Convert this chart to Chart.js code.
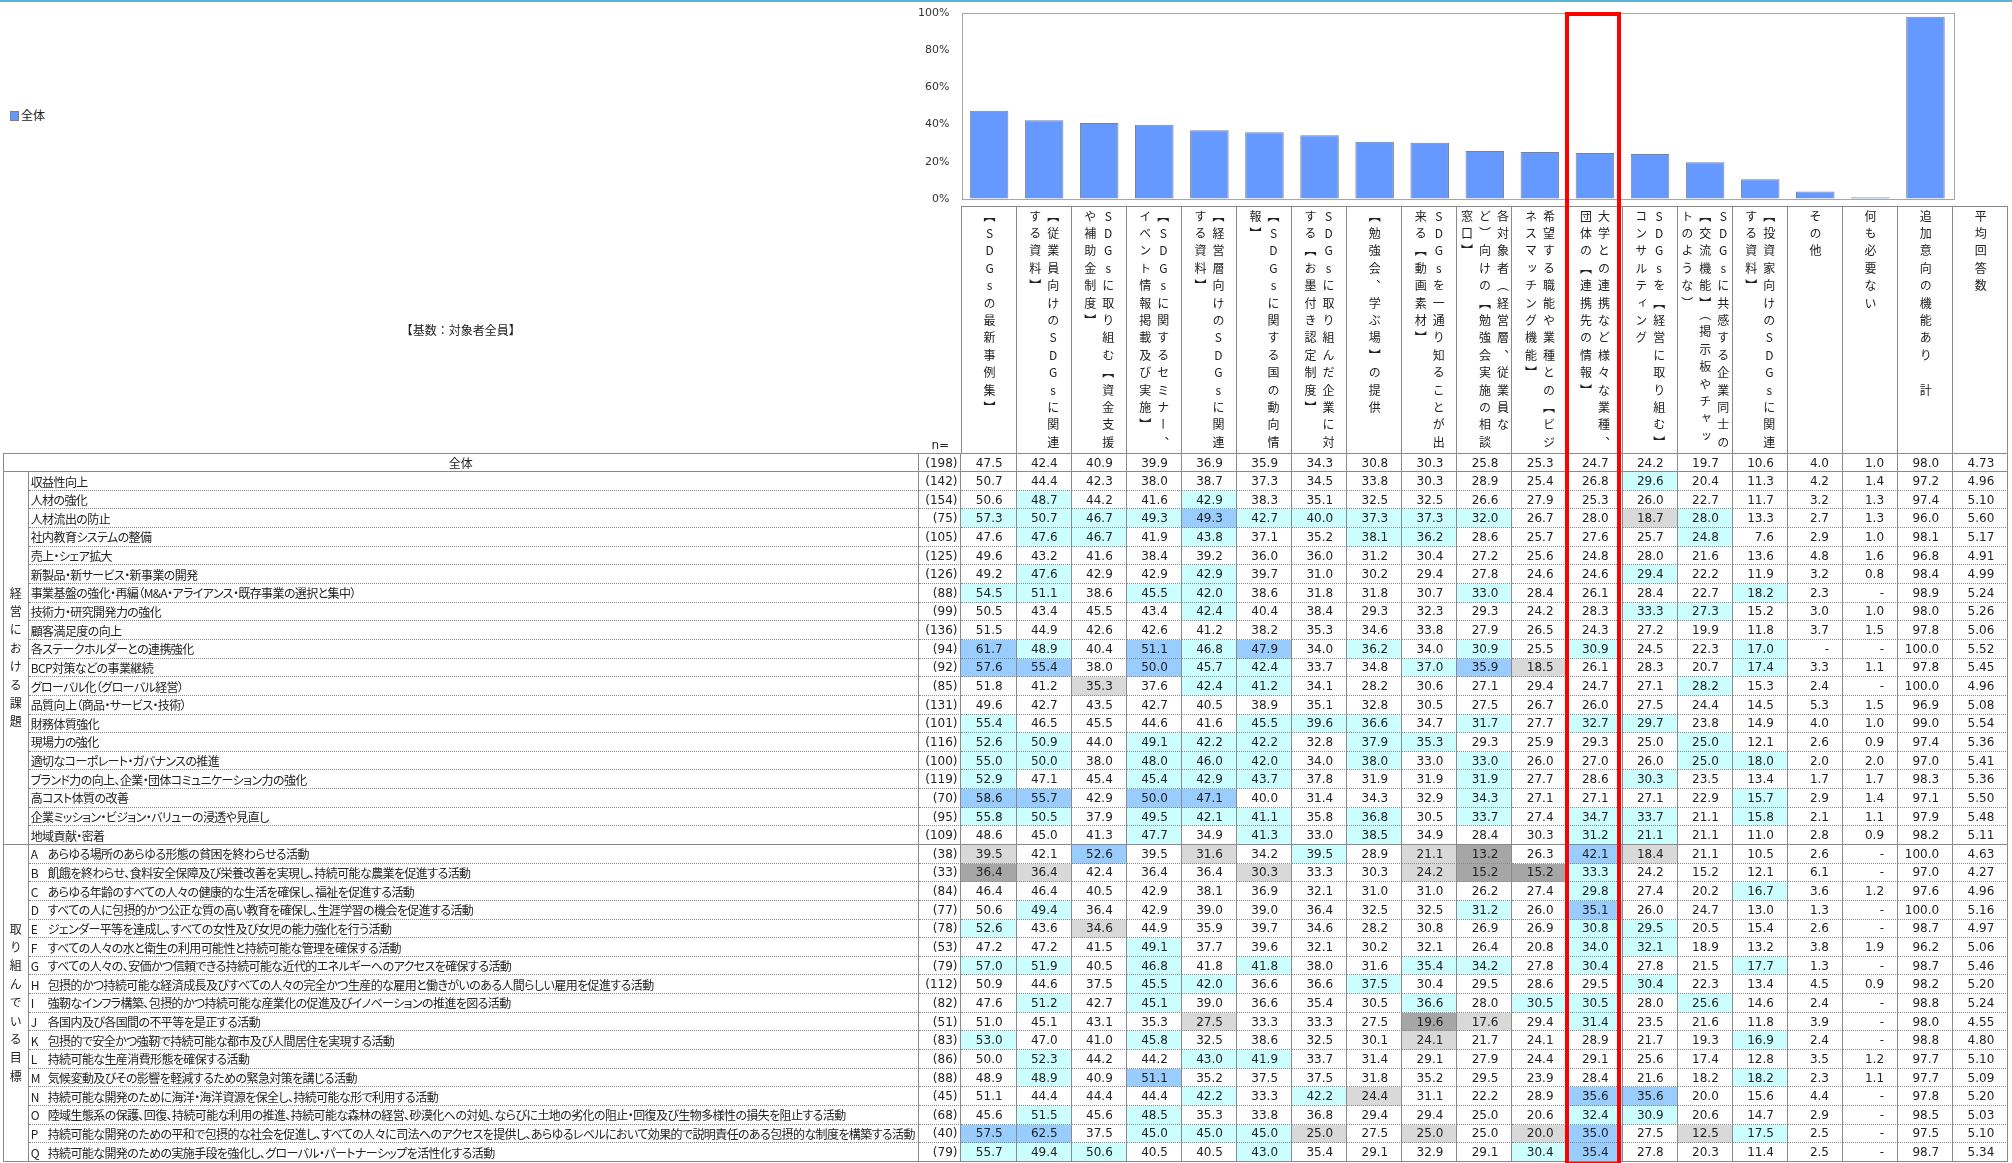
<!DOCTYPE html>
<html lang="ja">
<head>
<meta charset="UTF-8">
<title>SDGs 追加意向の機能</title>
<script src="https://cdn.jsdelivr.net/npm/chart.js"></script>
<style>
  body {
    margin: 0;
    width: 2012px;
    height: 1163px;
    position: relative;
    overflow: hidden;
    background: #fff;
    color: #222;
    font-family: "Noto Sans CJK JP", sans-serif;
  }
  #topline { position: absolute; left: 0; top: 0; width: 2012px; height: 2px; background: #5ab4d3; }
  #legend { position: absolute; left: 10px; top: 106px; font-size: 12px; line-height: 18px; }
  #legend span { display: inline-block; width: 7px; height: 8px; background: #6699ff; border: 1px solid #7f7f7f; margin-right: 2px; vertical-align: -1px; }
  #barChart { position: absolute; left: 880px; top: 0; width: 1080px; height: 206px; }
  #grid {
    position: absolute; left: 2.7px; top: 205.7px;
    display: grid;
    grid-template-columns: 26px 890.3px 42.5px repeat(19, 55.1px);
    grid-template-rows: 247.5px 19px repeat(37, 18.65px);
  }
  .cell {
    box-sizing: border-box;
    border-right: 1px solid #8a8a8a;
    border-bottom: 1px dotted #8a8a8a;
    display: flex; align-items: center;
    font-size: 12px; white-space: nowrap;
  }
  .solid { border-bottom: 1px solid #8a8a8a; }
  .top { border-top: 1px solid #8a8a8a; }
  .left { border-left: 1px solid #8a8a8a; }
  .num { justify-content: flex-end; padding-right: 13px; font-family: "DejaVu Sans", sans-serif; }
  .nn { justify-content: flex-end; padding-right: 3px; font-family: "DejaVu Sans", sans-serif; }
  .lab { padding-left: 2px; font-feature-settings: "palt"; letter-spacing: -0.6px; overflow: hidden; }
  .lab b { font-weight: normal; display: inline-block; width: 17px; letter-spacing: 0; }
  .all { justify-content: center; }
  .grp { justify-content: center; border-bottom: 1px solid #8a8a8a; }
  .gt { writing-mode: vertical-rl; text-orientation: upright; letter-spacing: 6.4px; padding-top: 6px; }
  .hcell {
    box-sizing: border-box;
    border-top: 1px solid #8a8a8a; border-right: 1px solid #8a8a8a;
    display: flex; justify-content: center; align-items: flex-start;
    padding-top: 3px;
  }
  .vt { writing-mode: vertical-rl; text-orientation: upright; font-size: 12px; letter-spacing: 5.4px; line-height: 18px; white-space: pre; }
  .nhead { display: flex; justify-content: center; align-items: flex-end; padding-bottom: 1px; font-size: 12px; font-family: "DejaVu Sans", sans-serif; }
  .base { display: flex; justify-content: center; align-items: center; font-size: 12px; }
  .c { background: #ccffff; }
  .b { background: #99ccff; }
  .g { background: #d9d9d9; }
  .d { background: #a6a6a6; }
  #redbox { position: absolute; left: 1565px; top: 12px; width: 56px; height: 1154px; box-sizing: border-box; border: 4px solid #ff0000; pointer-events: none; }
</style>
</head>
<body>
<div id="topline"></div>
<div id="legend"><span></span>全体</div>
<canvas id="barChart" width="1080" height="206"></canvas>
<div id="grid"></div>
<div id="redbox"></div>

<script>
  // column headers (line breaks as in the original sheet)
  const columnLabels = [
    '【SDGsの最新事例集】',
    '【従業員向けのSDGsに関連\nする資料】',
    'SDGsに取り組む【資金支援\nや補助金制度】',
    '【SDGsに関するセミナー、\nイベント情報掲載及び実施】',
    '【経営層向けのSDGsに関連\nする資料】',
    '【SDGsに関する国の動向情\n報】',
    'SDGsに取り組んだ企業に対\nする【お墨付き認定制度】',
    '【勉強会、学ぶ場】の提供',
    'SDGsを一通り知ることが出\n来る【動画素材】',
    '各対象者（経営層、従業員な\nど）向けの【勉強会実施の相談\n窓口】',
    '希望する職能や業種との【ビジ\nネスマッチング機能】',
    '大学との連携など様々な業種、\n団体の【連携先の情報】',
    'SDGsを【経営に取り組む】\nコンサルティング',
    'SDGsに共感する企業同士の\n【交流機能】（掲示板やチャッ\nトのような）',
    '【投資家向けのSDGsに関連\nする資料】',
    'その他',
    '何も必要ない',
    '追加意向の機能あり　計',
    '平均回答数'
  ];

  const yTicks = [0, 20, 40, 60, 80, 100];

  const overallLabel = '全体';
  const overallN = 198;
  const overallValues = [47.5, 42.4, 40.9, 39.9, 36.9, 35.9, 34.3, 30.8, 30.3, 25.8, 25.3, 24.7, 24.2, 19.7, 10.6, 4.0, 1.0, 98.0, 4.73];

  const groupNames = ['経営における課題', '取り組んでいる目標'];

  const issueLabels = [
    '収益性向上', '人材の強化', '人材流出の防止', '社内教育システムの整備', '売上・シェア拡大',
    '新製品・新サービス・新事業の開発', '事業基盤の強化・再編（M&A・アライアンス・既存事業の選択と集中）',
    '技術力・研究開発力の強化', '顧客満足度の向上', '各ステークホルダーとの連携強化', 'BCP対策などの事業継続',
    'グローバル化（グローバル経営）', '品質向上（商品・サービス・技術）', '財務体質強化', '現場力の強化',
    '適切なコーポレート・ガバナンスの推進', 'ブランド力の向上、企業・団体コミュニケーション力の強化',
    '高コスト体質の改善', '企業ミッション・ビジョン・バリューの浸透や見直し', '地域貢献・密着'
  ];
  const issueN = [142, 154, 75, 105, 125, 126, 88, 99, 136, 94, 92, 85, 131, 101, 116, 100, 119, 70, 95, 109];
  const issueValues = [
    [50.7, 44.4, 42.3, 38.0, 38.7, 37.3, 34.5, 33.8, 30.3, 28.9, 25.4, 26.8, 29.6, 20.4, 11.3, 4.2, 1.4, 97.2, 4.96],
    [50.6, 48.7, 44.2, 41.6, 42.9, 38.3, 35.1, 32.5, 32.5, 26.6, 27.9, 25.3, 26.0, 22.7, 11.7, 3.2, 1.3, 97.4, 5.10],
    [57.3, 50.7, 46.7, 49.3, 49.3, 42.7, 40.0, 37.3, 37.3, 32.0, 26.7, 28.0, 18.7, 28.0, 13.3, 2.7, 1.3, 96.0, 5.60],
    [47.6, 47.6, 46.7, 41.9, 43.8, 37.1, 35.2, 38.1, 36.2, 28.6, 25.7, 27.6, 25.7, 24.8, 7.6, 2.9, 1.0, 98.1, 5.17],
    [49.6, 43.2, 41.6, 38.4, 39.2, 36.0, 36.0, 31.2, 30.4, 27.2, 25.6, 24.8, 28.0, 21.6, 13.6, 4.8, 1.6, 96.8, 4.91],
    [49.2, 47.6, 42.9, 42.9, 42.9, 39.7, 31.0, 30.2, 29.4, 27.8, 24.6, 24.6, 29.4, 22.2, 11.9, 3.2, 0.8, 98.4, 4.99],
    [54.5, 51.1, 38.6, 45.5, 42.0, 38.6, 31.8, 31.8, 30.7, 33.0, 28.4, 26.1, 28.4, 22.7, 18.2, 2.3, null, 98.9, 5.24],
    [50.5, 43.4, 45.5, 43.4, 42.4, 40.4, 38.4, 29.3, 32.3, 29.3, 24.2, 28.3, 33.3, 27.3, 15.2, 3.0, 1.0, 98.0, 5.26],
    [51.5, 44.9, 42.6, 42.6, 41.2, 38.2, 35.3, 34.6, 33.8, 27.9, 26.5, 24.3, 27.2, 19.9, 11.8, 3.7, 1.5, 97.8, 5.06],
    [61.7, 48.9, 40.4, 51.1, 46.8, 47.9, 34.0, 36.2, 34.0, 30.9, 25.5, 30.9, 24.5, 22.3, 17.0, null, null, 100.0, 5.52],
    [57.6, 55.4, 38.0, 50.0, 45.7, 42.4, 33.7, 34.8, 37.0, 35.9, 18.5, 26.1, 28.3, 20.7, 17.4, 3.3, 1.1, 97.8, 5.45],
    [51.8, 41.2, 35.3, 37.6, 42.4, 41.2, 34.1, 28.2, 30.6, 27.1, 29.4, 24.7, 27.1, 28.2, 15.3, 2.4, null, 100.0, 4.96],
    [49.6, 42.7, 43.5, 42.7, 40.5, 38.9, 35.1, 32.8, 30.5, 27.5, 26.7, 26.0, 27.5, 24.4, 14.5, 5.3, 1.5, 96.9, 5.08],
    [55.4, 46.5, 45.5, 44.6, 41.6, 45.5, 39.6, 36.6, 34.7, 31.7, 27.7, 32.7, 29.7, 23.8, 14.9, 4.0, 1.0, 99.0, 5.54],
    [52.6, 50.9, 44.0, 49.1, 42.2, 42.2, 32.8, 37.9, 35.3, 29.3, 25.9, 29.3, 25.0, 25.0, 12.1, 2.6, 0.9, 97.4, 5.36],
    [55.0, 50.0, 38.0, 48.0, 46.0, 42.0, 34.0, 38.0, 33.0, 33.0, 26.0, 27.0, 26.0, 25.0, 18.0, 2.0, 2.0, 97.0, 5.41],
    [52.9, 47.1, 45.4, 45.4, 42.9, 43.7, 37.8, 31.9, 31.9, 31.9, 27.7, 28.6, 30.3, 23.5, 13.4, 1.7, 1.7, 98.3, 5.36],
    [58.6, 55.7, 42.9, 50.0, 47.1, 40.0, 31.4, 34.3, 32.9, 34.3, 27.1, 27.1, 27.1, 22.9, 15.7, 2.9, 1.4, 97.1, 5.50],
    [55.8, 50.5, 37.9, 49.5, 42.1, 41.1, 35.8, 36.8, 30.5, 33.7, 27.4, 34.7, 33.7, 21.1, 15.8, 2.1, 1.1, 97.9, 5.48],
    [48.6, 45.0, 41.3, 47.7, 34.9, 41.3, 33.0, 38.5, 34.9, 28.4, 30.3, 31.2, 21.1, 21.1, 11.0, 2.8, 0.9, 98.2, 5.11]
  ];
  // c = 高め, b = かなり高め, g = 低め, d = かなり低め
  const issueMarks = [
    '............c......', '.c..c..............', 'ccccbccccc..gc.....', '.cc.c..cc....c.....',
    '...................', '.c..c.......c......', 'cc.cc....c....c....', '....c.......cc.....',
    '...................', 'bc.bcb.c.c.c..c....', 'bb.bcc..cbg...c....', '..g.cc.......c.....',
    '...................', 'c....ccc.c.cc......', 'cc.ccc.cc....c.....', 'cc.ccc.c.c...cc....',
    'c..ccc...c..c......', 'bb.bb....c....c....', 'cc.ccc.c.c.cc.c....', '...c.c.c...cc......'
  ];

  const goalLabels = [
    'A あらゆる場所のあらゆる形態の貧困を終わらせる活動',
    'B 飢餓を終わらせ、食料安全保障及び栄養改善を実現し、持続可能な農業を促進する活動',
    'C あらゆる年齢のすべての人々の健康的な生活を確保し、福祉を促進する活動',
    'D すべての人に包摂的かつ公正な質の高い教育を確保し、生涯学習の機会を促進する活動',
    'E ジェンダー平等を達成し、すべての女性及び女児の能力強化を行う活動',
    'F すべての人々の水と衛生の利用可能性と持続可能な管理を確保する活動',
    'G すべての人々の、安価かつ信頼できる持続可能な近代的エネルギーへのアクセスを確保する活動',
    'H 包摂的かつ持続可能な経済成長及びすべての人々の完全かつ生産的な雇用と働きがいのある人間らしい雇用を促進する活動',
    'I 強靭なインフラ構築、包摂的かつ持続可能な産業化の促進及びイノベーションの推進を図る活動',
    'J 各国内及び各国間の不平等を是正する活動',
    'K 包摂的で安全かつ強靭で持続可能な都市及び人間居住を実現する活動',
    'L 持続可能な生産消費形態を確保する活動',
    'M 気候変動及びその影響を軽減するための緊急対策を講じる活動',
    'N 持続可能な開発のために海洋・海洋資源を保全し、持続可能な形で利用する活動',
    'O 陸域生態系の保護、回復、持続可能な利用の推進、持続可能な森林の経営、砂漠化への対処、ならびに土地の劣化の阻止・回復及び生物多様性の損失を阻止する活動',
    'P 持続可能な開発のための平和で包摂的な社会を促進し、すべての人々に司法へのアクセスを提供し、あらゆるレベルにおいて効果的で説明責任のある包摂的な制度を構築する活動',
    'Q 持続可能な開発のための実施手段を強化し、グローバル・パートナーシップを活性化する活動'
  ];
  const goalN = [38, 33, 84, 77, 78, 53, 79, 112, 82, 51, 83, 86, 88, 45, 68, 40, 79];
  const goalValues = [
    [39.5, 42.1, 52.6, 39.5, 31.6, 34.2, 39.5, 28.9, 21.1, 13.2, 26.3, 42.1, 18.4, 21.1, 10.5, 2.6, null, 100.0, 4.63],
    [36.4, 36.4, 42.4, 36.4, 36.4, 30.3, 33.3, 30.3, 24.2, 15.2, 15.2, 33.3, 24.2, 15.2, 12.1, 6.1, null, 97.0, 4.27],
    [46.4, 46.4, 40.5, 42.9, 38.1, 36.9, 32.1, 31.0, 31.0, 26.2, 27.4, 29.8, 27.4, 20.2, 16.7, 3.6, 1.2, 97.6, 4.96],
    [50.6, 49.4, 36.4, 42.9, 39.0, 39.0, 36.4, 32.5, 32.5, 31.2, 26.0, 35.1, 26.0, 24.7, 13.0, 1.3, null, 100.0, 5.16],
    [52.6, 43.6, 34.6, 44.9, 35.9, 39.7, 34.6, 28.2, 30.8, 26.9, 26.9, 30.8, 29.5, 20.5, 15.4, 2.6, null, 98.7, 4.97],
    [47.2, 47.2, 41.5, 49.1, 37.7, 39.6, 32.1, 30.2, 32.1, 26.4, 20.8, 34.0, 32.1, 18.9, 13.2, 3.8, 1.9, 96.2, 5.06],
    [57.0, 51.9, 40.5, 46.8, 41.8, 41.8, 38.0, 31.6, 35.4, 34.2, 27.8, 30.4, 27.8, 21.5, 17.7, 1.3, null, 98.7, 5.46],
    [50.9, 44.6, 37.5, 45.5, 42.0, 36.6, 36.6, 37.5, 30.4, 29.5, 28.6, 29.5, 30.4, 22.3, 13.4, 4.5, 0.9, 98.2, 5.20],
    [47.6, 51.2, 42.7, 45.1, 39.0, 36.6, 35.4, 30.5, 36.6, 28.0, 30.5, 30.5, 28.0, 25.6, 14.6, 2.4, null, 98.8, 5.24],
    [51.0, 45.1, 43.1, 35.3, 27.5, 33.3, 33.3, 27.5, 19.6, 17.6, 29.4, 31.4, 23.5, 21.6, 11.8, 3.9, null, 98.0, 4.55],
    [53.0, 47.0, 41.0, 45.8, 32.5, 38.6, 32.5, 30.1, 24.1, 21.7, 24.1, 28.9, 21.7, 19.3, 16.9, 2.4, null, 98.8, 4.80],
    [50.0, 52.3, 44.2, 44.2, 43.0, 41.9, 33.7, 31.4, 29.1, 27.9, 24.4, 29.1, 25.6, 17.4, 12.8, 3.5, 1.2, 97.7, 5.10],
    [48.9, 48.9, 40.9, 51.1, 35.2, 37.5, 37.5, 31.8, 35.2, 29.5, 23.9, 28.4, 21.6, 18.2, 18.2, 2.3, 1.1, 97.7, 5.09],
    [51.1, 44.4, 44.4, 44.4, 42.2, 33.3, 42.2, 24.4, 31.1, 22.2, 28.9, 35.6, 35.6, 20.0, 15.6, 4.4, null, 97.8, 5.20],
    [45.6, 51.5, 45.6, 48.5, 35.3, 33.8, 36.8, 29.4, 29.4, 25.0, 20.6, 32.4, 30.9, 20.6, 14.7, 2.9, null, 98.5, 5.03],
    [57.5, 62.5, 37.5, 45.0, 45.0, 45.0, 25.0, 27.5, 25.0, 25.0, 20.0, 35.0, 27.5, 12.5, 17.5, 2.5, null, 97.5, 5.10],
    [55.7, 49.4, 50.6, 40.5, 40.5, 43.0, 35.4, 29.1, 32.9, 29.1, 30.4, 35.4, 27.8, 20.3, 11.4, 2.5, null, 98.7, 5.34]
  ];
  const goalMarks = [
    'g.b.g.c.gd.bg......', 'dg...g..gddc.......', '...........c..c....', '.c.......c.b.......',
    'c.g........cc......', '...c.......cc......', 'cc.c.c..cc.c..c....', '...cc..c....c......',
    '.c.c....c.cc.c.....', '....g...dg.c.......', 'c..c....g.....c....', '.c..cc.............',
    '.c.b..........c....', '....c.cg...bb......', '.c.c.......cc......', 'bb.cccg.g.gb.gc....',
    'ccc..c....cb.......'
  ];

  // ---- table ----
  const grid = document.getElementById('grid');

  function add(cls, html, row, col, span) {
    const d = document.createElement('div');
    d.className = cls;
    d.innerHTML = html;
    d.style.gridRow = span && span.rows ? row + ' / span ' + span.rows : row;
    d.style.gridColumn = span && span.cols ? col + ' / span ' + span.cols : col;
    grid.appendChild(d);
    return d;
  }

  function fmt(v, j) {
    if (v === null) return '-';
    return j === 18 ? v.toFixed(2) : v.toFixed(1);
  }

  // header row
  add('base', '【基数：対象者全員】', 1, 1, { cols: 2 });
  add('nhead', 'n=', 1, 3);
  columnLabels.forEach((t, j) => {
    const h = add('hcell' + (j === 0 ? ' left' : ''), '', 1, 4 + j);
    const s = document.createElement('span');
    s.className = 'vt';
    s.textContent = t;
    h.appendChild(s);
  });

  function addRow(row, label, n, values, marks, isLast, isAll) {
    const edge = isLast ? ' solid' : '';
    if (isAll) {
      add('cell all solid top left', label, row, 1, { cols: 2 });
    } else {
      const m = label.match(/^([A-Z]) (.*)$/);
      add('cell lab' + edge, '<span>' + (m ? '<b>' + m[1] + '</b>' + m[2] : label) + '</span>', row, 2);
    }
    add('cell nn' + edge + (isAll ? ' top' : ''), '(' + n + ')', row, 3);
    values.forEach((v, j) => {
      const mk = marks[j] !== '.' ? ' ' + marks[j] : '';
      add('cell num' + edge + mk + (isAll ? ' top' : ''), fmt(v, j), row, 4 + j);
    });
  }

  addRow(2, overallLabel, overallN, overallValues, '...................', true, true);

  const g1 = add('cell grp left', '', 3, 1, { rows: issueLabels.length });
  g1.innerHTML = '<span class="gt">' + groupNames[0] + '</span>';
  issueLabels.forEach((l, i) => addRow(3 + i, l, issueN[i], issueValues[i], issueMarks[i], i === issueLabels.length - 1));

  const start2 = 3 + issueLabels.length;
  const g2 = add('cell grp left', '', start2, 1, { rows: goalLabels.length });
  g2.innerHTML = '<span class="gt">' + groupNames[1] + '</span>';
  goalLabels.forEach((l, i) => addRow(start2 + i, l, goalN[i], goalValues[i], goalMarks[i], i === goalLabels.length - 1));

  // ---- bar chart (全体) ----
  const framePlugin = {
    id: 'frame',
    afterDraw(chart) {
      const a = chart.chartArea, ctx = chart.ctx;
      ctx.save();
      ctx.strokeStyle = '#a6a6a6';
      ctx.lineWidth = 1;
      ctx.strokeRect(Math.round(a.left) + 0.5, Math.round(a.top) + 0.5,
        Math.round(a.right - a.left), Math.round(a.bottom - a.top));
      ctx.restore();
    }
  };

  // wanted plot box inside the canvas (canvas starts at x=880)
  const area = { top: 13, bottom: 199, left: 81.5, right: 1073 };

  const barCount = 18; // 平均回答数 has no bar
  const chart = new Chart(document.getElementById('barChart'), {
    type: 'bar',
    data: {
      labels: columnLabels.slice(0, barCount),
      datasets: [{
        label: overallLabel,
        data: overallValues.slice(0, barCount),
        backgroundColor: '#6699ff',
        borderColor: '#808080',
        borderWidth: 1,
        barPercentage: 0.7,
        categoryPercentage: 1
      }]
    },
    options: {
      responsive: false,
      animation: false,
      layout: { padding: { top: 13, right: 7, bottom: 7, left: 0 } },
      plugins: { legend: { display: false }, tooltip: { enabled: false } },
      scales: {
        x: { display: false },
        y: {
          min: 0, max: 100,
          afterBuildTicks: s => { s.ticks = yTicks.map(v => ({ value: v })); },
          afterFit: s => { s.width = area.left; },
          // invisible tick marks keep the labels 12px off the plot edge
          grid: { display: true, drawOnChartArea: false, drawTicks: true, tickLength: 12, tickColor: 'rgba(0,0,0,0)' },
          border: { display: false },
          ticks: {
            padding: 0,
            color: '#333',
            font: { family: 'DejaVu Sans', size: 11 },
            callback: v => v + '%'
          }
        }
      }
    },
    plugins: [framePlugin]
  });

  // nudge the padding so the plot box lands on the table columns
  const ca = chart.chartArea;
  const dTop = area.top - ca.top, dBottom = ca.bottom - area.bottom, dRight = ca.right - area.right;
  if (Math.abs(dTop) > 0.3 || Math.abs(dBottom) > 0.3 || Math.abs(dRight) > 0.3) {
    chart.options.layout.padding = { top: 13 + dTop, right: 7 + dRight, bottom: 7 + dBottom, left: 0 };
    chart.update();
  }
</script>
</body>
</html>
